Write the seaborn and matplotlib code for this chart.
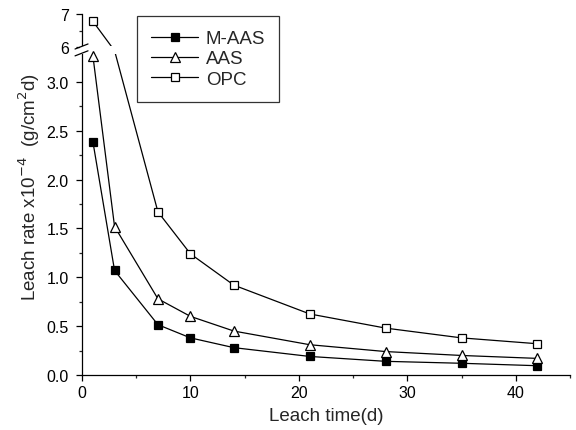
import numpy as np
import pandas as pd
import matplotlib
matplotlib.use("Agg")
import matplotlib.pyplot as plt
from matplotlib.lines import Line2D
from matplotlib.patches import Rectangle
import seaborn as sns

days = [1, 3, 7, 10, 14, 21, 28, 35, 42]
m_aas = [2.39, 1.07, 0.515, 0.38, 0.28, 0.19, 0.14, 0.12, 0.095]
aas = [3.27, 1.52, 0.78, 0.60, 0.45, 0.31, 0.24, 0.20, 0.17]
opc = [6.78, 5.5, 1.67, 1.24, 0.92, 0.625, 0.48, 0.38, 0.32]

series_names = ["M-AAS", "AAS", "OPC"]
markers = ["s", "^", "s"]
face_colors = ["black", "white", "white"]

y_major = [0.0, 0.5, 1.0, 1.5, 2.0, 2.5, 3.0, 6, 7]
y_labels = ["0.0", "0.5", "1.0", "1.5", "2.0", "2.5", "3.0", "6", "7"]
y_minor = [0.25, 0.75, 1.25, 1.75, 2.25, 2.75, 6.5]

# broken y axis: 0-3.3 full scale, 3.3-5.9 hidden, 5.9-7 squeezed
low_top = 3.3
high_bottom = 5.9
brk_v = [-1, 0, low_top, high_bottom, 8]
brk_s = [-1, 0, low_top, 3.324, 3.324 + 2.1 * 0.338]


def forward(v):
    return np.interp(v, brk_v, brk_s)


def inverse(s):
    return np.interp(s, brk_s, brk_v)


df = pd.DataFrame({
    "day": days * 3,
    "rate": m_aas + aas + opc,
    "series": [n for n in series_names for _ in days],
})

sns.set_style("ticks")
plt.rcParams["font.family"] = ["Liberation Sans", "DejaVu Sans"]

fig = plt.figure(figsize=(5.76, 4.31), dpi=100)
ax = fig.add_axes([0.1424, 0.1276, 0.8472, 0.8376])

handles = []
for name, mk, fc in zip(series_names, markers, face_colors):
    sub = df[df["series"] == name]
    sns.lineplot(data=sub, x="day", y="rate", color="black", lw=0.9,
                 ax=ax, zorder=2, legend=False)
    # points that fall inside the axis break are hidden
    shown = sub[(sub["rate"] <= low_top) | (sub["rate"] >= high_bottom)]
    ms = 6.2 if mk == "s" else 7
    ax.plot(shown["day"], shown["rate"], ls="none", marker=mk, mfc=fc,
            mec="black", ms=ms, mew=0.9, zorder=5)
    handles.append(Line2D([], [], color="black", lw=0.9, marker=mk, mfc=fc,
                          mec="black", ms=ms, mew=0.9))

ax.set_yscale("function", functions=(forward, inverse))
ax.set_ylim(0, 7)
ax.set_xlim(0, 45)
ax.set_yticks(y_major)
ax.set_yticklabels(y_labels)
ax.set_yticks(y_minor, minor=True)
ax.set_xticks([0, 10, 20, 30, 40])
ax.set_xticks([5, 15, 25, 35, 45], minor=True)

sns.despine(ax=ax)
for sp in ["left", "bottom"]:
    ax.spines[sp].set_linewidth(0.9)
    ax.spines[sp].set_color("black")
ax.tick_params(axis="both", which="major", length=4.5, width=0.9,
               labelsize=11.5, colors="black")
ax.tick_params(axis="both", which="minor", length=2.5, width=0.9)
ax.tick_params(axis="y", which="major", pad=5)
ax.tick_params(axis="x", which="major", pad=2.5)

# break band and marks
ax.add_patch(Rectangle((-0.004, 0.889), 1.004, 0.022, transform=ax.transAxes,
                       facecolor="white", edgecolor="none", clip_on=False, zorder=3))
for y0 in [0.884, 0.903]:
    ax.plot([-0.0143, 0.0123], [y0, y0 + 0.014], color="black", lw=0.9,
            transform=ax.transAxes, clip_on=False, zorder=4)

ax.set_xlabel("Leach time(d)", fontsize=13.5, labelpad=5)
ax.set_ylabel("Leach rate x10$^{-4}$  (g/cm$^2$d)", fontsize=13.5, labelpad=3)
ax.yaxis.label.set_y(0.523)

leg = ax.legend(handles, series_names, loc="upper left",
                bbox_to_anchor=(0.1127, 0.9945), borderaxespad=0,
                fontsize=13.5, frameon=True, fancybox=False, handlelength=2.5,
                handletextpad=0.4, borderpad=0.76, labelspacing=0.16)
leg.get_frame().set_edgecolor("black")
leg.get_frame().set_linewidth(0.9)

fig.savefig("out.png", dpi=100)
